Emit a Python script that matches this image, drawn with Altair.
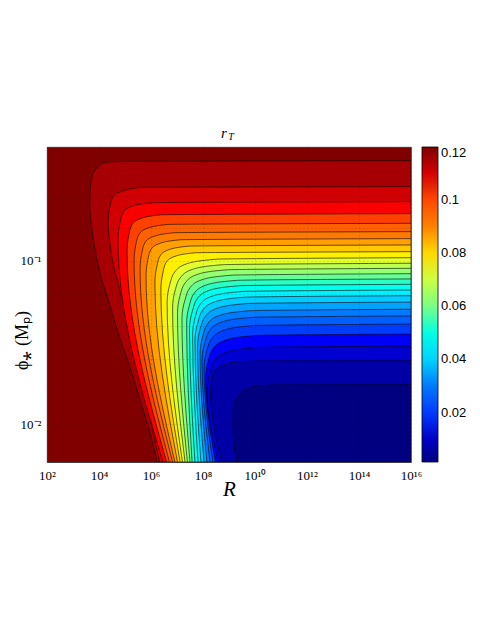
import altair as alt
import pandas as pd

# ---- data -----------------------------------------------------------------
# Each contour line: points (log10 R, log10 phi) from the bottom edge up to the right edge
curves = [
    [(6.24, -2.233), (5.96, -2.055), (5.58, -1.853), (5.19, -1.650), (4.74, -1.442), (4.36, -1.239),
     (4.04, -1.075), (3.85, -0.933), (3.72, -0.790), (3.65, -0.667), (3.65, -0.606), (3.73, -0.485),
     (3.92, -0.429), (4.15, -0.399), (4.69, -0.390), (16, -0.385)],
    [(6.33, -2.233), (4.92, -1.258), (4.73, -1.135), (4.54, -1.012), (4.42, -0.890), (4.35, -0.767),
     (4.42, -0.669), (4.54, -0.607), (4.81, -0.577), (5.58, -0.549), (16, -0.544)],
    [(6.46, -2.233), (4.73, -0.869), (4.81, -0.765), (4.92, -0.703), (5.23, -0.667), (6.04, -0.643), (16, -0.636)],
    [(6.60, -2.233), (5.08, -0.943), (5.15, -0.839), (5.27, -0.777), (5.58, -0.741), (6.38, -0.717), (16, -0.710)],
    [(6.71, -2.233), (5.35, -1.002), (5.42, -0.898), (5.54, -0.836), (5.85, -0.800), (6.65, -0.776), (16, -0.769)],
    [(6.83, -2.233), (5.58, -1.053), (5.65, -0.949), (5.77, -0.887), (6.08, -0.851), (6.88, -0.827), (16, -0.820)],
    [(6.92, -2.233), (5.81, -1.096), (5.88, -0.992), (6.00, -0.930), (6.31, -0.894), (7.12, -0.870), (16, -0.863)],
    [(7.02, -2.233), (6.15, -1.135), (6.23, -1.031), (6.35, -0.969), (6.65, -0.933), (7.46, -0.909), (16, -0.902)],
    [(7.12, -2.233), (6.38, -1.176), (6.46, -1.072), (6.58, -1.010), (6.88, -0.974), (7.69, -0.950), (16, -0.943)],
    [(7.21, -2.233), (6.62, -1.256), (6.73, -1.140), (6.92, -1.066), (7.38, -1.017), (8.54, -0.989), (16, -0.980)],
    [(7.31, -2.233), (6.83, -1.290), (6.94, -1.174), (7.14, -1.100), (7.60, -1.051), (8.75, -1.023), (16, -1.014)],
    [(7.40, -2.233), (7.02, -1.321), (7.13, -1.205), (7.33, -1.131), (7.79, -1.082), (8.94, -1.054), (16, -1.045)],
    [(7.50, -2.233), (7.19, -1.354), (7.31, -1.238), (7.50, -1.164), (7.96, -1.115), (9.12, -1.087), (16, -1.078)],
    [(7.58, -2.233), (7.37, -1.386), (7.48, -1.270), (7.67, -1.196), (8.13, -1.147), (9.29, -1.119), (16, -1.110)],
    [(7.69, -2.233), (7.48, -1.419), (7.60, -1.303), (7.79, -1.229), (8.25, -1.180), (9.40, -1.152), (16, -1.143)],
    [(7.81, -2.233), (7.60, -1.454), (7.71, -1.338), (7.90, -1.264), (8.37, -1.215), (9.52, -1.187), (16, -1.178)],
    [(7.92, -2.233), (7.69, -1.489), (7.81, -1.373), (8.00, -1.299), (8.46, -1.250), (9.62, -1.222), (16, -1.213)],
    [(8.04, -2.233), (7.79, -1.528), (7.90, -1.412), (8.10, -1.338), (8.56, -1.289), (9.71, -1.261), (16, -1.252)],
    [(8.15, -2.233), (7.89, -1.572), (8.00, -1.456), (8.19, -1.382), (8.65, -1.333), (9.81, -1.305), (16, -1.296)],
    [(8.27, -2.233), (7.96, -1.613), (8.08, -1.497), (8.27, -1.423), (8.73, -1.374), (9.89, -1.346), (16, -1.337)],
    [(8.38, -2.233), (8.04, -1.663), (8.15, -1.547), (8.35, -1.473), (8.81, -1.424), (9.96, -1.396), (16, -1.387)],
    [(8.48, -2.233), (8.10, -1.724), (8.21, -1.608), (8.40, -1.534), (8.87, -1.485), (10.02, -1.457), (16, -1.448)],
    [(8.60, -2.233), (8.15, -1.798), (8.27, -1.682), (8.46, -1.608), (8.92, -1.559), (10.08, -1.531), (16, -1.522)],
    [(8.73, -2.233), (8.42, -2.017), (8.29, -1.812), (8.40, -1.689), (8.78, -1.638), (9.30, -1.619),
     (10.45, -1.613), (16, -1.612)],
    [(9.31, -2.233), (9.16, -2.050), (9.16, -1.914), (9.36, -1.833), (9.68, -1.787), (10.07, -1.767),
     (10.83, -1.761), (16, -1.759)],
]
# r_T value of the band lying below/right of each contour line
band_values = [0.1153, 0.1105, 0.1058, 0.1010, 0.0963, 0.0915, 0.0868, 0.0820, 0.0773, 0.0726,
               0.0678, 0.0631, 0.0583, 0.0536, 0.0488, 0.0441, 0.0394, 0.0346, 0.0299, 0.0251,
               0.0204, 0.0156, 0.0109, 0.0061, 0.0014]
r_min, r_max = 0.0014, 0.12
colorbar_ticks = [0.02, 0.04, 0.06, 0.08, 0.1, 0.12]
x_ticks = [1e2, 1e4, 1e6, 1e8, 1e10, 1e12, 1e14, 1e16]
x_labels = ["10²", "10⁴", "10⁶", "10⁸", "10¹⁰", "10¹²", "10¹⁴", "10¹⁶"]
y_ticks = [10 ** (-0.2 * k) for k in range(2, 12)]
R_max = 1e16

rows = []
for ci, pts in enumerate(curves):
    for j, (u, v) in enumerate(pts):
        rows.append({"curve": ci, "idx": j, "R": 10 ** u, "phi": 10 ** v,
                     "R2": R_max, "val": band_values[ci]})
df = pd.DataFrame(rows)

jet = ["#000080", "#0000ff", "#0080ff", "#00ffff", "#80ff80",
       "#ffff00", "#ff8000", "#ff0000", "#800000"]
jet_domain = [r_min + k * (r_max - r_min) / 8 for k in range(9)]

serif = "Liberation Serif"
x_label_expr = "[" + ",".join("'%s'" % s for s in x_labels) + "][round(log(datum.value)/LN10/2)-1]"
y_label_expr = ("abs(log(datum.value)/LN10+1)<0.01 ? '10⁻¹' : "
                "(abs(log(datum.value)/LN10+2)<0.01 ? '10⁻²' : '')")

xaxis = alt.Axis(values=x_ticks, labelExpr=x_label_expr, title="R",
                 grid=True, gridDash=[1, 3], gridColor="black", gridOpacity=0.35, gridWidth=0.6,
                 ticks=False, domain=True, domainColor="#333", domainWidth=0.8,
                 labelFont=serif, labelFontSize=13, labelColor="black", labelPadding=7,
                 labelFlush=False, labelOverlap=False,
                 titleFont=serif, titleFontStyle="italic", titleFontWeight="normal",
                 titleFontSize=21, titleColor="black", titleX=182, titleY=27,
                 titleBaseline="middle", titleAlign="center", zindex=1)
yaxis = alt.Axis(values=y_ticks, labelExpr=y_label_expr, title="ϕ⁎ (Mₚ)",
                 grid=True, gridDash=[1, 3], gridColor="black", gridOpacity=0.35, gridWidth=0.6,
                 ticks=False, domain=True, domainColor="#333", domainWidth=0.8,
                 labelFont=serif, labelFontSize=13, labelColor="black", labelPadding=6,
                 labelFlush=False, labelOverlap=False,
                 titleFont=serif, titleFontWeight="normal", titleFontSize=18, titleColor="black",
                 titleAngle=270, titleX=-25, titleY=193, titleBaseline="middle", titleAlign="center",
                 zindex=1)
legend = alt.Legend(values=colorbar_ticks, format=".2~f", title=None, orient="right", offset=11,
                    direction="vertical", gradientLength=315, gradientThickness=16,
                    gradientStrokeColor="black", gradientStrokeWidth=0.8,
                    labelFont="Liberation Sans", labelFontSize=13, labelColor="black",
                    labelOffset=3, padding=0, labelOverlap=False)

base = alt.Chart(df).encode(
    x=alt.X("R:Q", scale=alt.Scale(type="log", domain=[1e2, 1e16]), axis=xaxis),
    x2="R2:Q",
    y=alt.Y("phi:Q", scale=alt.Scale(type="log", domain=[0.00585, 0.5]), axis=yaxis),
    color=alt.Color("val:Q", scale=alt.Scale(domain=jet_domain, range=jet), legend=legend),
)

layers = []
for ci in range(len(curves)):
    layers.append(
        base.transform_filter(alt.datum.curve == ci).mark_area(
            orient="horizontal", interpolate="monotone", stroke="black",
            strokeWidth=0.6, clip=True)
    )

title_r = alt.Chart(pd.DataFrame({"t": ["r"]})).mark_text(
    font=serif, fontStyle="italic", fontSize=15, align="center", baseline="alphabetic"
).encode(text="t:N", x=alt.value(177), y=alt.value(-9))
title_t = alt.Chart(pd.DataFrame({"t": ["T"]})).mark_text(
    font=serif, fontStyle="italic", fontSize=10, align="center", baseline="alphabetic"
).encode(text="t:N", x=alt.value(184), y=alt.value(-7))

chart = alt.layer(*layers, title_r, title_t).properties(
    width=364, height=315, background="white",
    padding={"left": 39, "top": 139, "right": 61, "bottom": 60},
    autosize=alt.AutoSizeParams(type="none"),
).configure_view(
    fill="#800000", stroke="#333", strokeWidth=0.8
)

chart.save("out.html", embed_options={"renderer": "svg", "actions": False})
